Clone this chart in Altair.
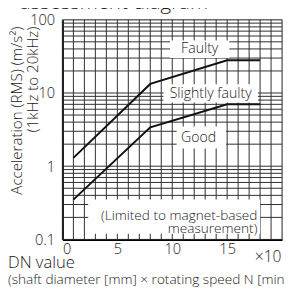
import altair as alt
import pandas as pd

# Boundary lines (DN value x10^4, acceleration m/s^2)
upper_x = [1, 8, 15, 18]
upper_y = [1.3, 13.3, 28, 28]
lower_x = [1, 8, 15, 18]
lower_y = [0.35, 3.4, 7, 7]

# Zone label boxes
box_x = [9.8, 9.2, 10.4, 2.35]
box_x2 = [15.2, 17.8, 14.9, 18.0]
box_y = [30, 7.4, 1.75, 0.12]
box_y2 = [52, 13.2, 3.5, 0.35]

label_text = ["Faulty", "Slightly faulty", "Good"]
label_x = [12.5, 13.5, 12.4]
label_y = [40, 9.6, 2.45]

note_text = "(Limited to magnet-based\nmeasurement)"

x_grid = list(range(0, 21))
y_grid = [0.1, 0.2, 0.3, 0.4, 0.5, 0.6, 0.7, 0.8, 0.9,
          1, 2, 3, 4, 5, 6, 7, 8, 9,
          10, 20, 30, 40, 50, 60, 70, 80, 90, 100]
x_ticks = [0, 5, 10, 15]
y_ticks = [0.1, 1, 10, 100]

FONT = "Open Sans"
FW = 300
TXT = "#1a1a1a"
GRID = "#2b2b2b"
W, H = 226, 226

lines_df = pd.DataFrame({
    "x": upper_x + lower_x,
    "y": upper_y + lower_y,
    "s": ["upper"] * len(upper_x) + ["lower"] * len(lower_x),
})
box_df = pd.DataFrame({"x": box_x, "x2": box_x2, "y": box_y, "y2": box_y2})
lab_df = pd.DataFrame({"t": label_text, "x": label_x, "y": label_y})
note_df = pd.DataFrame({"t": [note_text], "x": [17.75], "y": [0.205]})
xg_df = pd.DataFrame({"x": x_grid})
yg_df = pd.DataFrame({"y": y_grid})

xs = alt.Scale(domain=[0, 20], nice=False, zero=False)
ys = alt.Scale(type="log", domain=[0.1, 100], nice=False)

xaxis = alt.Axis(values=x_ticks, grid=False, format="d",
                 tickSize=0, labelPadding=3, labelFont=FONT, labelFontSize=15,
                 labelFontWeight=FW, labelColor=TXT, domainColor="#000",
                 domainWidth=2, title=None, labelOverlap=False)
yaxis = alt.Axis(values=y_ticks, grid=False, format="~g",
                 tickSize=0, labelPadding=8, labelFont=FONT, labelFontSize=15,
                 labelFontWeight=FW, labelColor=TXT, domainColor="#000",
                 domainWidth=2, title=None, labelOverlap=False)

X = alt.X("x:Q", scale=xs, axis=xaxis)
Y = alt.Y("y:Q", scale=ys, axis=yaxis)

xgrid = alt.Chart(xg_df).mark_rule(color=GRID, strokeWidth=1).encode(x=X)
ygrid = alt.Chart(yg_df).mark_rule(color=GRID, strokeWidth=1).encode(y=Y)

boxes = alt.Chart(box_df).mark_rect(fill="white").encode(
    x=X, x2="x2:Q", y=Y, y2="y2:Q",
)

lines = alt.Chart(lines_df).mark_line(color="#111", strokeWidth=2).encode(
    x=X, y=Y, detail="s:N",
)

labels = alt.Chart(lab_df).mark_text(font=FONT, fontWeight=FW, fontSize=14.5,
                                      color=TXT).encode(x=X, y=Y, text="t:N")

note = alt.Chart(note_df).mark_text(font=FONT, fontWeight=FW, fontSize=14, color=TXT,
                                     align="right", baseline="middle",
                                     lineBreak="\n", lineHeight=13).encode(
    x=X, y=Y, text="t:N",
)

def ptext(t, x, y, size, align="left", angle=0, baseline="middle"):
    return alt.Chart(pd.DataFrame({"t": [t]})).mark_text(
        font=FONT, fontWeight=FW, fontSize=size, color=TXT, align=align,
        angle=angle, baseline=baseline
    ).encode(x=alt.value(x), y=alt.value(y), text="t:N")

extra = [
    ptext("×10", 198, 244, 16),
    ptext("DN value", -56, 250, 17),
    ptext("(shaft diameter [mm] × rotating speed N [min⁻¹])", -56, 268, 14),
    ptext("Acceleration (RMS) (m/s²)", -47, 7, 15.5, align="right", angle=270),
    ptext("(1kHz to 20kHz)", -30, 7, 15.5, align="right", angle=270),
    ptext("assessment diagram", -44, -11.5, 21, baseline="alphabetic"),
]

chart = alt.layer(xgrid, ygrid, boxes, lines, labels, note, *extra).properties(
    width=W, height=H,
    autosize=alt.AutoSizeParams(type="none"),
    padding={"left": 56, "top": 8, "right": 2, "bottom": 51},
).configure_view(stroke=None).configure(background="white")

chart.save("out.html", embed_options={"renderer": "svg", "actions": False})
